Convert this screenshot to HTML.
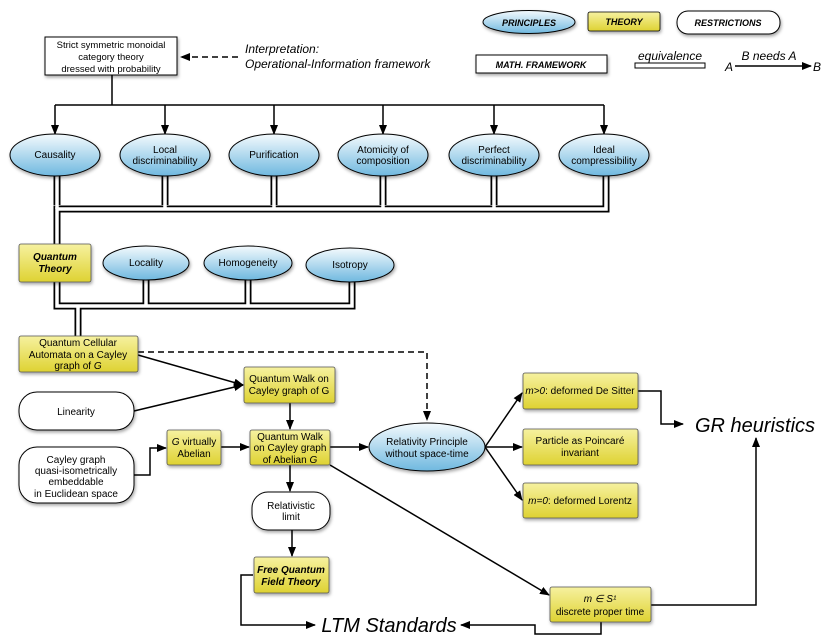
<!DOCTYPE html>
<html><head><meta charset="utf-8"><style>
html,body{margin:0;padding:0;background:#fff;}
svg{display:block;font-family:"Liberation Sans",sans-serif;}
</style></head><body>
<svg width="830" height="639" viewBox="0 0 830 639" xmlns="http://www.w3.org/2000/svg">
<defs>
<linearGradient id="y" x1="0" y1="0" x2="0" y2="1"><stop offset="0" stop-color="#f6f1a0"/><stop offset="1" stop-color="#ded232"/></linearGradient>
<linearGradient id="b" x1="0" y1="0" x2="0" y2="1"><stop offset="0" stop-color="#f4fafd"/><stop offset="1" stop-color="#6fb8df"/></linearGradient>
<marker id="a" markerWidth="10" markerHeight="8" refX="9" refY="4" orient="auto" markerUnits="userSpaceOnUse"><path d="M0,0 L10,4 L0,8 z" fill="#000"/></marker>
<filter id="s" x="-20%" y="-20%" width="140%" height="150%"><feDropShadow dx="1" dy="2" stdDeviation="1.5" flood-opacity="0.35"/></filter>
</defs>
<g font-size="10" text-anchor="middle" fill="#000">
<ellipse cx="529" cy="22" rx="46" ry="11.5" fill="url(#b)" stroke="#000" filter="url(#s)"/>
<text x="529" y="26" font-weight="bold" font-style="italic" font-size="9">PRINCIPLES</text>
<rect x="588" y="12" width="72" height="19" rx="2" fill="url(#y)" stroke="#000" stroke-width="0.8" filter="url(#s)"/>
<text x="624" y="25" font-weight="bold" font-style="italic" font-size="9">THEORY</text>
<rect x="677" y="11" width="103" height="23" rx="11" fill="#fff" stroke="#000" filter="url(#s)"/>
<text x="728" y="26" font-weight="bold" font-style="italic" font-size="9">RESTRICTIONS</text>
<rect x="476" y="55" width="131" height="18" fill="#fff" stroke="#000" filter="url(#s)"/>
<text x="541" y="68" font-weight="bold" font-style="italic" font-size="9">MATH. FRAMEWORK</text>
<text x="670" y="60" font-style="italic" font-size="12">equivalence</text>
<rect x="635" y="63" width="70" height="5" fill="#fff" stroke="#000"/>
<text x="769" y="60" font-style="italic" font-size="12">B needs A</text>
<text x="729" y="71" font-style="italic" font-size="12">A</text>
<text x="817" y="71" font-style="italic" font-size="12">B</text>
<line x1="735" y1="66" x2="811" y2="66" stroke="#000" stroke-width="1.5" marker-end="url(#a)"/>

<rect x="45" y="37" width="132" height="38" fill="#fff" stroke="#000" filter="url(#s)"/>
<text x="111" y="48" font-size="9.5">Strict symmetric monoidal</text>
<text x="111" y="60" font-size="9.5">category theory</text>
<text x="111" y="72" font-size="9.5">dressed with probability</text>
<line x1="238" y1="57" x2="181" y2="57" stroke="#000" stroke-width="1.5" stroke-dasharray="6,4" marker-end="url(#a)"/>
<text x="245" y="53" font-style="italic" font-size="12" text-anchor="start">Interpretation:</text>
<text x="245" y="68" font-style="italic" font-size="12" text-anchor="start">Operational-Information framework</text>

<g stroke="#000" stroke-width="1.5" fill="none">
<path d="M112,75 V105"/><path d="M55,105 H604"/>
</g>
<g stroke="#000" stroke-width="1.5" marker-end="url(#a)">
<line x1="55" y1="105" x2="55" y2="134"/><line x1="165" y1="105" x2="165" y2="134"/>
<line x1="274" y1="105" x2="274" y2="134"/><line x1="383" y1="105" x2="383" y2="134"/>
<line x1="494" y1="105" x2="494" y2="134"/><line x1="604" y1="105" x2="604" y2="134"/>
</g>

<g fill="none" stroke-linejoin="miter">
<g stroke="#000" stroke-width="7">
<path d="M57,175 V205"/><path d="M165,175 V205"/><path d="M274,175 V205"/><path d="M383,175 V205"/><path d="M494,175 V205"/>
<path d="M606,175 V209 H57 V244"/>
<path d="M57,282 V306 H352 V282"/><path d="M146,280 V306"/><path d="M248,280 V306"/>
<path d="M78,306 V336"/>
</g>
<g stroke="#fff" stroke-width="3.5">
<path d="M57,175 V209"/><path d="M165,175 V209"/><path d="M274,175 V209"/><path d="M383,175 V209"/><path d="M494,175 V209"/>
<path d="M606,175 V209 H57 V244"/>
<path d="M57,282 V306 H352 V282"/><path d="M146,280 V306"/><path d="M248,280 V306"/>
<path d="M78,306 V336"/>
</g>
</g>

<g fill="url(#b)" stroke="#000" filter="url(#s)">
<ellipse cx="55" cy="155" rx="45" ry="21"/><ellipse cx="165" cy="155" rx="45" ry="21"/>
<ellipse cx="274" cy="155" rx="45" ry="21"/><ellipse cx="383" cy="155" rx="45" ry="21"/>
<ellipse cx="494" cy="155" rx="45" ry="21"/><ellipse cx="604" cy="155" rx="45" ry="21"/>
<ellipse cx="146" cy="263" rx="43" ry="17"/><ellipse cx="248" cy="263" rx="44" ry="17"/><ellipse cx="350" cy="265" rx="44" ry="17"/>
<ellipse cx="427" cy="447" rx="58" ry="24"/>
</g>
<text x="55" y="158">Causality</text>
<text x="165" y="153">Local</text><text x="165" y="164">discriminability</text>
<text x="274" y="158">Purification</text>
<text x="383" y="153">Atomicity of</text><text x="383" y="164">composition</text>
<text x="494" y="153">Perfect</text><text x="494" y="164">discriminability</text>
<text x="604" y="153">Ideal</text><text x="604" y="164">compressibility</text>
<text x="146" y="266">Locality</text><text x="248" y="266">Homogeneity</text><text x="350" y="268">Isotropy</text>
<text x="427" y="445">Relativity Principle</text><text x="427" y="457">without space-time</text>

<g stroke="#000" stroke-width="1.5" fill="none">
<path d="M138,352 H427 V420" stroke-dasharray="6,4" marker-end="url(#a)"/>
<path d="M138,355 L243,385" marker-end="url(#a)"/>
<path d="M134,411 L243,385" marker-end="url(#a)"/>
<path d="M290,403 V429" marker-end="url(#a)"/>
<path d="M221,447 H249" marker-end="url(#a)"/>
<path d="M134,475 H150 V448 H166" marker-end="url(#a)"/>
<path d="M330,447 H368" marker-end="url(#a)"/>
<path d="M290,465 V491" marker-end="url(#a)"/>
<path d="M292,530 V556" marker-end="url(#a)"/>
<path d="M253,575 H241 V625 H315" marker-end="url(#a)"/>
<path d="M330,465 L549,595" marker-end="url(#a)"/>
<path d="M485,447 L522,393" marker-end="url(#a)"/>
<path d="M485,447 H522" marker-end="url(#a)"/>
<path d="M485,447 L522,500" marker-end="url(#a)"/>
<path d="M638,391 H661 V424 H683" marker-end="url(#a)"/>
<path d="M651,605 H756 V438" marker-end="url(#a)"/>
<path d="M601,622 V634 H535 V625 H461" marker-end="url(#a)"/>
</g>

<g fill="url(#y)" stroke="#555" stroke-width="0.8" filter="url(#s)">
<rect x="19" y="244" width="72" height="38" rx="2"/>
<rect x="19" y="336" width="119" height="36" rx="2"/>
<rect x="244" y="367" width="91" height="36" rx="2"/>
<rect x="167" y="430" width="54" height="35" rx="2"/>
<rect x="250" y="430" width="80" height="35" rx="2"/>
<rect x="254" y="557" width="75" height="36" rx="2"/>
<rect x="523" y="373" width="115" height="36" rx="2"/>
<rect x="523" y="429" width="115" height="36" rx="2"/>
<rect x="523" y="483" width="115" height="35" rx="2"/>
<rect x="550" y="587" width="101" height="35" rx="2"/>
</g>
<g fill="#fff" stroke="#000" filter="url(#s)">
<rect x="19" y="392" width="115" height="38" rx="18"/>
<rect x="19" y="447" width="115" height="56" rx="18"/>
<rect x="252" y="492" width="78" height="38" rx="16"/>
</g>
<text x="55" y="260" font-weight="bold" font-style="italic">Quantum</text><text x="55" y="272" font-weight="bold" font-style="italic">Theory</text>
<text x="78" y="346">Quantum Cellular</text><text x="78" y="358">Automata on a Cayley</text><text x="78" y="369">graph of <tspan font-style="italic">G</tspan></text>
<text x="289" y="382">Quantum Walk on</text><text x="289" y="394">Cayley graph of G</text>
<text x="194" y="445"><tspan font-style="italic">G</tspan> virtually</text><text x="194" y="457">Abelian</text>
<text x="290" y="440">Quantum Walk</text><text x="290" y="451">on Cayley graph</text><text x="290" y="463">of Abelian <tspan font-style="italic">G</tspan></text>
<text x="76" y="415">Linearity</text>
<text x="76" y="463">Cayley graph</text><text x="76" y="474">quasi-isometrically</text><text x="76" y="485">embeddable</text><text x="76" y="497">in Euclidean space</text>
<text x="291" y="509">Relativistic</text><text x="291" y="520">limit</text>
<text x="291" y="573" font-weight="bold" font-style="italic">Free Quantum</text><text x="291" y="585" font-weight="bold" font-style="italic">Field Theory</text>
<text x="580" y="394"><tspan font-style="italic">m&gt;0</tspan>: deformed De Sitter</text>
<text x="580" y="444">Particle as Poincaré</text><text x="580" y="456">invariant</text>
<text x="580" y="504"><tspan font-style="italic">m=0</tspan>: deformed Lorentz</text>
<text x="600" y="602" font-style="italic">m ∈ S¹</text><text x="600" y="615">discrete proper time</text>
<text x="755" y="432" font-size="20" font-style="italic">GR heuristics</text>
<text x="389" y="632" font-size="20" font-style="italic">LTM Standards</text>
</g>
</svg>
</body></html>
